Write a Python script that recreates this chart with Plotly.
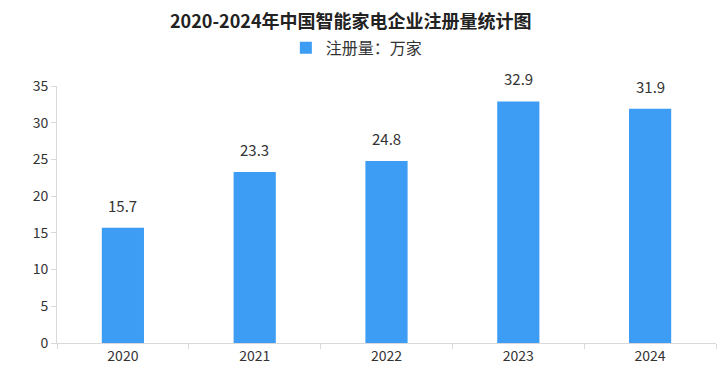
import plotly.graph_objects as go

years = ["2020", "2021", "2022", "2023", "2024"]
values = [15.7, 23.3, 24.8, 32.9, 31.9]
labels = ["15.7", "23.3", "24.8", "32.9", "31.9"]
series_name = "注册量：万家"
title = "2020-2024年中国智能家电企业注册量统计图"

FONT = "Noto Sans CJK SC"
BAR = "#3d9cf4"
TXT = "#333333"

fig = go.Figure()
fig.add_trace(go.Bar(
    x=years, y=values, name=series_name,
    marker=dict(color=BAR, line=dict(width=0)),
    width=0.32,
))
for i, (v, t) in enumerate(zip(values, labels)):
    fig.add_annotation(x=i, y=v, text=t, showarrow=False, yanchor="bottom",
                       yshift=10, font=dict(family=FONT, size=15, color=TXT))

fig.update_layout(
    width=717, height=371,
    margin=dict(l=49, r=9, t=78, b=36),
    paper_bgcolor="white", plot_bgcolor="white",
    font=dict(family=FONT, size=14, color=TXT),
    title=dict(text="<b>" + title + "</b>", x=0.478, xanchor="center", y=0.962, yanchor="middle",
               font=dict(family=FONT, size=18, color="#222222")),
    showlegend=True,
    legend=dict(orientation="h", x=0.455, xanchor="center", y=1.148, yanchor="middle",
                font=dict(family=FONT, size=16, color=TXT),
                itemwidth=30),
)
fig.update_xaxes(type="category", range=[-0.5, len(years) - 0.5],
                 showline=True, linecolor="#d9d9d9", linewidth=1,
                 ticks="outside", tickson="boundaries", ticklen=5, tickcolor="#d9d9d9",
                 showgrid=False, tickfont=dict(family=FONT, size=14, color=TXT))
fig.update_yaxes(range=[0, 35], dtick=5, showline=True, linecolor="#d9d9d9", linewidth=1,
                 ticks="outside", ticklen=5, tickcolor="#d9d9d9",
                 showgrid=False, zeroline=False,
                 tickfont=dict(family=FONT, size=14, color=TXT))

fig.write_html("out.html")
